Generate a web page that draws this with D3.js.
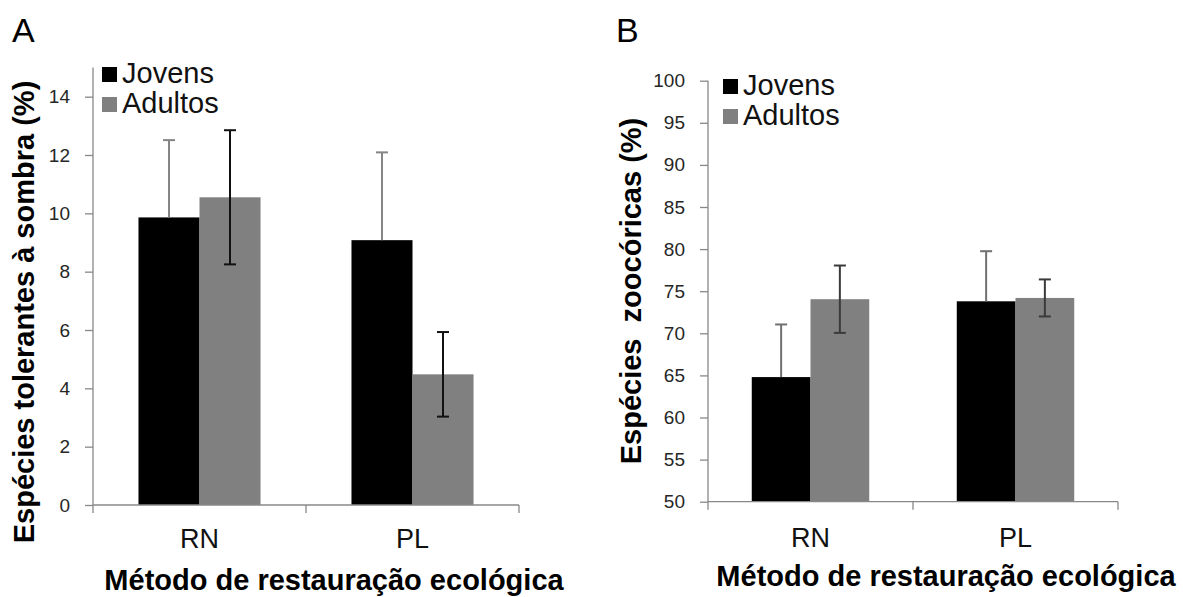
<!DOCTYPE html>
<html>
<head>
<meta charset="utf-8">
<script src="https://cdn.jsdelivr.net/npm/d3@7"></script>
<style>
  body { margin: 0; background: #fff; }
  text { font-family: Arial, "Liberation Sans", sans-serif; }
</style>
</head>
<body>
<svg width="1183" height="597"></svg>
<script>
// data
let categories = ["RN", "PL"];
let series = ["Jovens", "Adultos"];

let sombraJovens = [9.86, 9.08];
let sombraAdultos = [10.55, 4.48];
let sombraJovensErr = [2.65, 3.01];
let sombraAdultosErr = [2.3, 1.45];
let sombraTicks = [0, 2, 4, 6, 8, 10, 12, 14];

let zooJovens = [64.8, 73.8];
let zooAdultos = [74.05, 74.2];
let zooJovensErr = [6.25, 5.95];
let zooAdultosErr = [4.0, 2.2];
let zooTicks = [50, 55, 60, 65, 70, 75, 80, 85, 90, 95, 100];

let barColors = { Jovens: "#000000", Adultos: "#808080" };
let axisColor = "#888888";

let svg = d3.select("svg");

function panel(opt) {
  let g = svg.append("g");

  let y = d3.scaleLinear().domain(opt.domain).range([opt.bottom, opt.top]);
  let x = d3.scaleBand().domain(categories).range([opt.left, opt.right]);
  let groupW = x.bandwidth() * 0.573;
  let xs = d3.scaleBand().domain(series).range([0, groupW]);
  let off = (x.bandwidth() - groupW) / 2;

  let rows = [];
  categories.forEach((c, i) => {
    rows.push({ cat: c, s: "Jovens", v: opt.jov[i], e: opt.jovErr[i], plusOnly: true, ec: opt.errColors[0] });
    rows.push({ cat: c, s: "Adultos", v: opt.adu[i], e: opt.aduErr[i], plusOnly: false, ec: opt.errColors[1] });
  });

  // bars
  g.selectAll(".bar")
    .data(rows)
    .join("rect")
    .attr("x", (d) => x(d.cat) + off + xs(d.s))
    .attr("width", xs.bandwidth())
    .attr("y", (d) => y(d.v))
    .attr("height", (d) => y(opt.domain[0]) - y(d.v))
    .style("fill", (d) => barColors[d.s]);

  // error bars
  let eb = g.selectAll(".err").data(rows).join("g");
  let cx = (d) => x(d.cat) + off + xs(d.s) + xs.bandwidth() / 2;
  eb.append("line")
    .attr("x1", cx).attr("x2", cx)
    .attr("y1", (d) => y(d.v + d.e))
    .attr("y2", (d) => (d.plusOnly ? y(d.v) : y(d.v - d.e)))
    .style("stroke", (d) => d.ec).style("stroke-width", 2);
  eb.append("line")
    .attr("x1", (d) => cx(d) - 6).attr("x2", (d) => cx(d) + 6)
    .attr("y1", (d) => y(d.v + d.e)).attr("y2", (d) => y(d.v + d.e))
    .style("stroke", (d) => d.ec).style("stroke-width", 2);
  eb.filter((d) => !d.plusOnly)
    .append("line")
    .attr("x1", (d) => cx(d) - 6).attr("x2", (d) => cx(d) + 6)
    .attr("y1", (d) => y(d.v - d.e)).attr("y2", (d) => y(d.v - d.e))
    .style("stroke", (d) => d.ec).style("stroke-width", 2);

  // y axis
  let yAxis = g.append("g")
    .attr("transform", `translate(${opt.left},0)`)
    .call(d3.axisLeft(y).tickValues(opt.ticks).tickSize(8).tickPadding(15).tickSizeOuter(0));
  yAxis.select(".domain").attr("d", `M0,${opt.top}V${opt.bottom}`);
  yAxis.selectAll("path, line").style("stroke", axisColor).style("stroke-width", 1.3);
  yAxis.selectAll("text")
    .style("font-size", "19px").style("fill", "#262626")
    .style("font-family", "Arial, 'Liberation Sans', sans-serif");

  // x axis
  let xAxis = g.append("g").attr("transform", `translate(0,${opt.bottom})`);
  xAxis.append("line")
    .attr("x1", opt.left).attr("x2", opt.right)
    .style("stroke", axisColor).style("stroke-width", 1.3);
  xAxis.selectAll(".xt")
    .data([opt.left, x("PL"), opt.right])
    .join("line")
    .attr("x1", (d) => d).attr("x2", (d) => d)
    .attr("y1", 0).attr("y2", 8)
    .style("stroke", axisColor).style("stroke-width", 1.3);
  g.selectAll(".xl")
    .data(categories)
    .join("text")
    .attr("x", (d) => x(d) + x.bandwidth() / 2)
    .attr("y", opt.catY)
    .attr("text-anchor", "middle")
    .style("font-size", "27px").style("fill", "#111")
    .text((d) => d);

  // titles
  g.append("text")
    .attr("x", opt.xTitle[0]).attr("y", opt.xTitle[1])
    .attr("text-anchor", "middle")
    .style("font-size", "29px").style("font-weight", "bold").style("fill", "#000")
    .text("Método de restauração ecológica");

  g.append("text")
    .attr("transform", `translate(${opt.yTitle[0]},${opt.yTitle[1]}) rotate(-90)`)
    .attr("text-anchor", "middle")
    .style("font-size", "29px").style("font-weight", "bold").style("fill", "#000")
    .style("white-space", "pre")
    .text(opt.yLabel);

  g.append("text")
    .attr("x", opt.letter[0]).attr("y", opt.letter[1])
    .style("font-size", "34px").style("fill", "#000")
    .text(opt.letterText);

  // legend
  let leg = g.selectAll(".leg")
    .data(series)
    .join("g")
    .attr("transform", (d, i) => `translate(${opt.legend[0]},${opt.legend[1] + i * 30})`);
  leg.append("rect")
    .attr("x", 0).attr("y", -15).attr("width", 15).attr("height", 15)
    .style("fill", (d) => barColors[d]);
  leg.append("text")
    .attr("x", 20).attr("y", 1)
    .style("font-size", "29px").style("fill", "#111")
    .text((d) => d);
}

panel({
  domain: [0, 15], top: 67.5, bottom: 505, left: 93, right: 519,
  jov: sombraJovens, adu: sombraAdultos, jovErr: sombraJovensErr, aduErr: sombraAdultosErr,
  errColors: ["#858585", "#111111"],
  ticks: sombraTicks, catY: 548,
  xTitle: [334, 590], yTitle: [34, 312],
  yLabel: "Espécies tolerantes à sombra (%)",
  letter: [12, 42], letterText: "A",
  legend: [102, 82]
});

panel({
  domain: [50, 100], top: 80.7, bottom: 501.7, left: 708, right: 1118,
  jov: zooJovens, adu: zooAdultos, jovErr: zooJovensErr, aduErr: zooAdultosErr,
  errColors: ["#707070", "#3a3a3a"],
  ticks: zooTicks, catY: 547,
  xTitle: [946, 586], yTitle: [641, 291],
  yLabel: "Espécies  zoocóricas (%)",
  letter: [616, 42], letterText: "B",
  legend: [723, 94]
});
</script>
</body>
</html>
